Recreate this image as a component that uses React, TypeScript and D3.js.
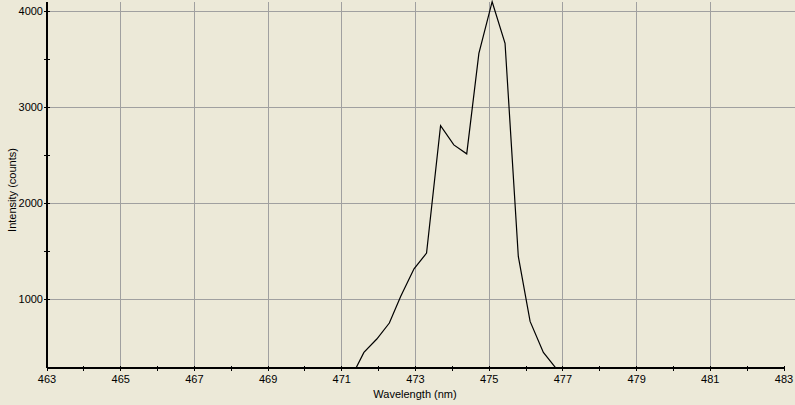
import React from "react";
import * as d3 from "d3";

const wavelengths = [471.24, 471.6, 471.95, 472.29, 472.6, 472.96, 473.3, 473.68, 474.04, 474.39, 474.72, 475.08, 475.43, 475.79, 476.11, 476.47, 476.83, 477.18];
const intensities = [170, 444, 583, 750, 1030, 1315, 1479, 2808, 2607, 2514, 3562, 4100, 3667, 1444, 767, 444, 270, 170];
const xMajorTicks = [463, 465, 467, 469, 471, 473, 475, 477, 479, 481, 483];
const xMinorTicks = [464, 466, 468, 470, 472, 474, 476, 478, 480, 482];
const yMajorTicks = [1000, 2000, 3000, 4000];
const yMinorTicks = [1500, 2500, 3500];

const W = 795;
const H = 405;
const BG = "#ECE9D8";
const GRID = "#A0A0A0";
const FONT = "'Liberation Sans', Arial, sans-serif";

export default function App() {
  const x = d3.scaleLinear().domain([463, 483]).range([47, 784]);
  const y = d3.scaleLinear().domain([281, 4097]).range([368, 2]);
  const pts = wavelengths.map((w, i) => [w, intensities[i]] as [number, number]);
  const line = d3.line<[number, number]>().x((d) => x(d[0])).y((d) => y(d[1]));
  const x0 = x(463);
  const yAxis = y(281);

  return (
    <svg
      width={W}
      height={H}
      style={{ position: "absolute", left: 0, top: 0, display: "block" }}
      fontFamily={FONT}
      fontSize={11}
    >
      <defs>
        <clipPath id="plot">
          <rect x={x0} y={0} width={W - x0} height={yAxis - 0} />
        </clipPath>
      </defs>
      <rect x={0} y={0} width={W} height={H} fill={BG} />
      {/* grid */}
      <g stroke={GRID} strokeWidth={1} shapeRendering="crispEdges">
        {xMajorTicks.filter((t) => t !== 463 && t !== 483).map((t) => (
          <line key={"gx" + t} x1={x(t)} x2={x(t)} y1={2} y2={yAxis} />
        ))}
        {yMajorTicks.map((t) => (
          <line key={"gy" + t} x1={x0} x2={W} y1={y(t)} y2={y(t)} />
        ))}
      </g>
      {/* data line */}
      <path d={line(pts) || ""} fill="none" stroke="#000" strokeWidth={1.2} clipPath="url(#plot)" />
      {/* axes */}
      <g stroke="#000" strokeWidth={1} shapeRendering="crispEdges">
        <line x1={x0} x2={x0} y1={2} y2={yAxis} strokeWidth={2} />
        <line x1={x0} x2={x(483)} y1={yAxis} y2={yAxis} strokeWidth={2} />
        {xMajorTicks.concat(xMinorTicks).map((t) => (
          <line key={"tx" + t} x1={x(t)} x2={x(t)} y1={yAxis - 2} y2={yAxis + 3} />
        ))}
        {yMajorTicks.concat(yMinorTicks).map((t) => (
          <line key={"ty" + t} x1={x0 - 3} x2={x0 + 3} y1={y(t)} y2={y(t)} />
        ))}
      </g>
      {/* tick labels */}
      <g fill="#000">
        {xMajorTicks.map((t) => (
          <text key={"lx" + t} x={x(t)} y={383} textAnchor="middle">
            {t}
          </text>
        ))}
        {yMajorTicks.map((t) => (
          <text key={"ly" + t} x={43} y={y(t) + 4} textAnchor="end">
            {t}
          </text>
        ))}
        <text x={415} y={398} textAnchor="middle">
          Wavelength (nm)
        </text>
        <text x={0} y={0} textAnchor="middle" transform="translate(15.5,190) rotate(-90)">
          Intensity (counts)
        </text>
      </g>
    </svg>
  );
}
